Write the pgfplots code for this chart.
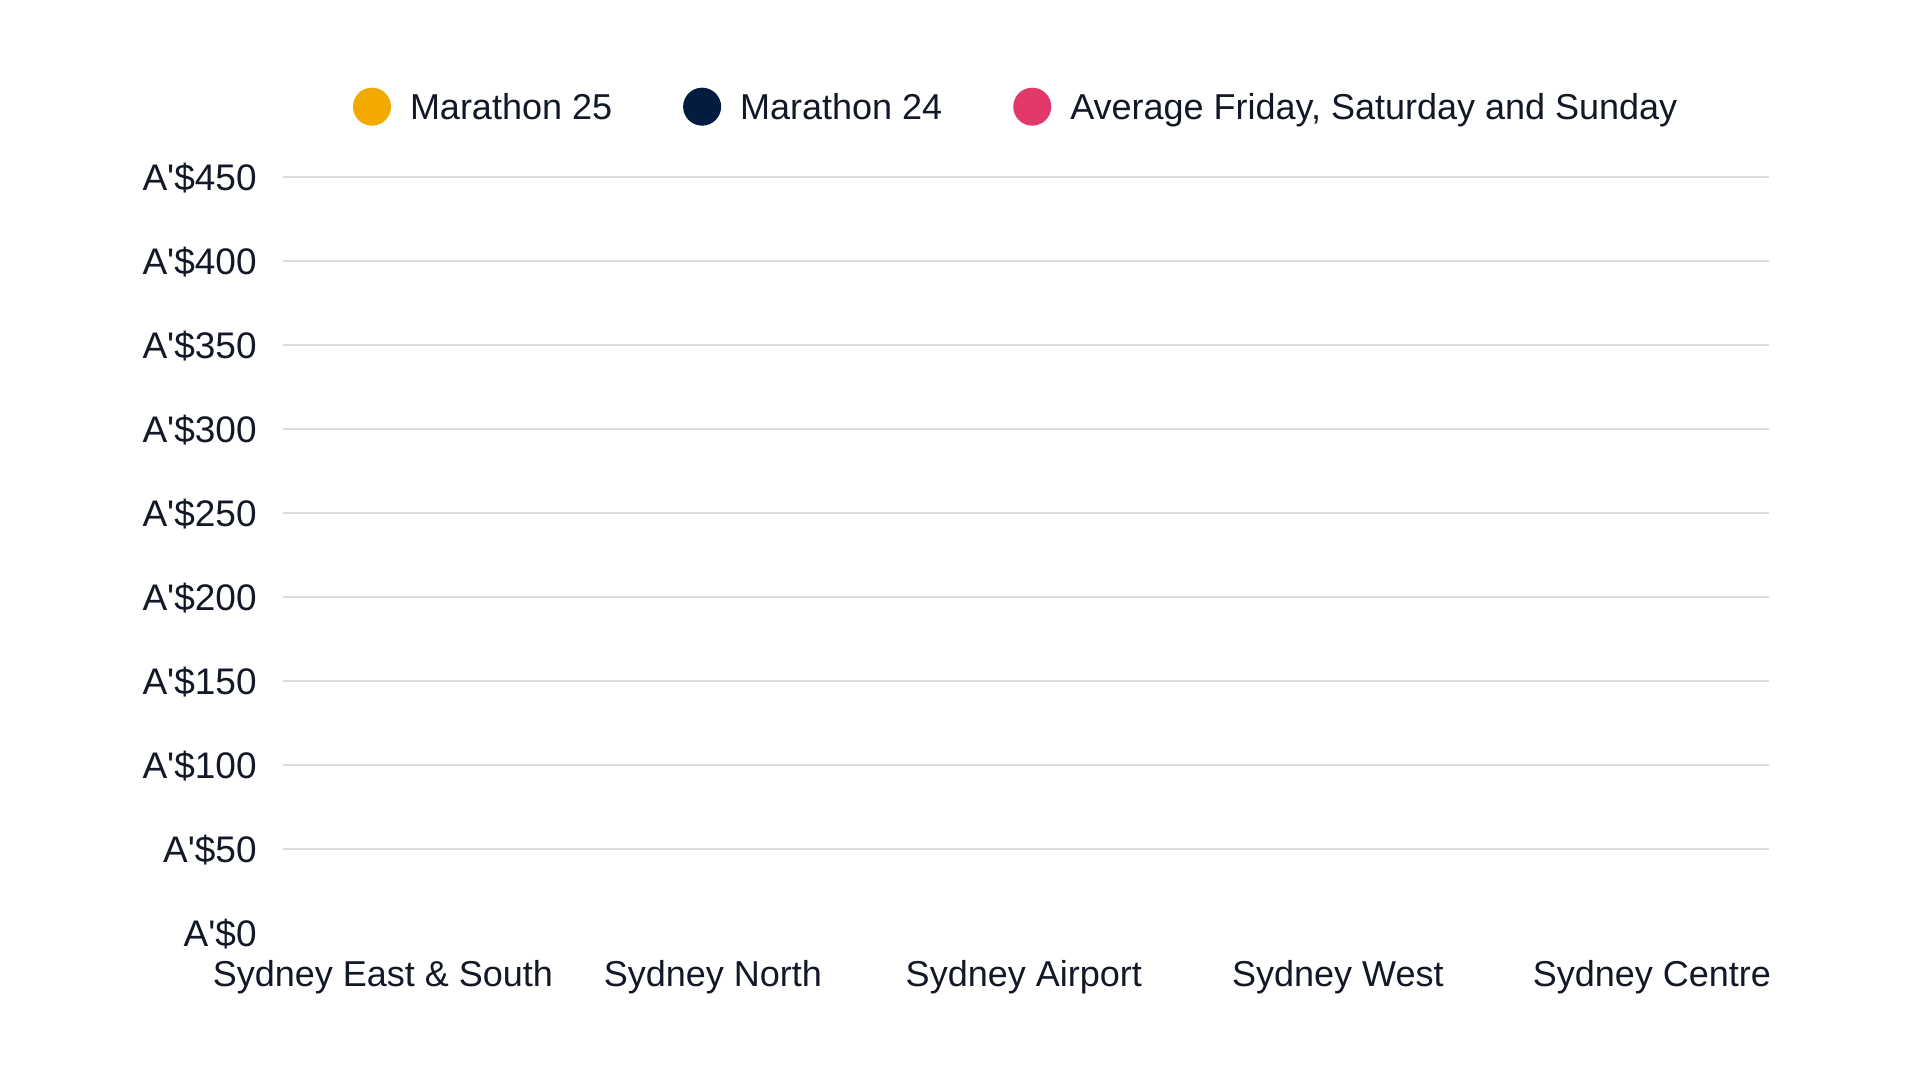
\documentclass[border=0pt]{standalone}
\usepackage{pgfplots}
\pgfplotsset{compat=1.18}
\usepackage{fontspec}
\newfontfamily\chartfont{Liberation Sans}

\definecolor{txt}{HTML}{121826}
\definecolor{gridc}{HTML}{DCDCDC}
\definecolor{m25}{HTML}{F2A900}
\definecolor{m24}{HTML}{031C3F}
\definecolor{avg}{HTML}{E2386A}

\begin{document}
\chartfont
\begin{tikzpicture}
\fill[white] (0,0) rectangle (960pt,540pt);
\path[use as bounding box] (0,0) rectangle (960pt,540pt);
\begin{axis}[
    at={(141.5pt,73.5pt)}, anchor=south west,
    scale only axis,
    width=743pt, height=378pt,
    xmin=-0.315, xmax=4.369,
    ymin=0, ymax=450,
    axis line style={draw=none},
    major tick length=0pt,
    xtick={0,1.04,2.02,3.01,4},
    xticklabels={Sydney East \& South, Sydney North, Sydney Airport, Sydney West, Sydney Centre},
    ytick={0,50,...,450},
    yticklabels={A'\$0,A'\$50,A'\$100,A'\$150,A'\$200,A'\$250,A'\$300,A'\$350,A'\$400,A'\$450},
    % grid lines from 50 up; the reference has none at zero
    extra y ticks={50,100,...,450},
    extra y tick labels={},
    extra y tick style={grid=major},
    grid style={gridc, line width=0.8pt},
    xticklabel style={font=\chartfont\fontsize{18}{20}\selectfont, text=txt, anchor=base, inner sep=0pt, yshift=-27pt},
    yticklabel style={font=\chartfont\fontsize{18.5}{20}\selectfont, text=txt, anchor=base east, inner sep=0pt, xshift=-13pt, yshift=-6.6pt},
    legend columns=-1,
    legend cell align=left,
    legend style={draw=none, fill=none, inner sep=0pt, outer sep=0pt,
        at={(0.0471,1.0930)}, anchor=west,
        /tikz/every even column/.append style={column sep=35.5pt},
        nodes={inner sep=0pt, font=\chartfont\fontsize{18}{20}\selectfont, text=txt, text height=12.9pt, text depth=0pt}},
    legend image code/.code={\fill[#1, draw=none] (9.5pt,0pt) circle[radius=9.5pt]; \path[draw=none, fill=none] (0pt,0pt) -- (28.5pt,0pt);},
]
\addlegendimage{m25}
\addlegendentry{Marathon 25}
\addlegendimage{m24}
\addlegendentry{Marathon 24}
\addlegendimage{avg}
\addlegendentry{Average Friday, Saturday and Sunday}
\end{axis}
\end{tikzpicture}
\end{document}
